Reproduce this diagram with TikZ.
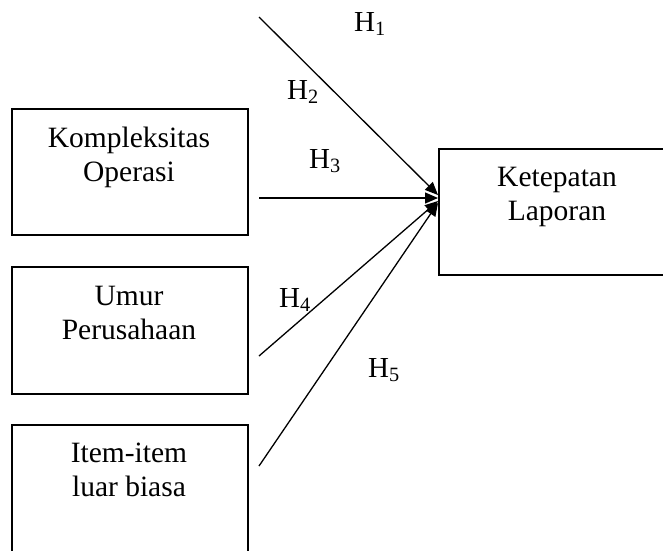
\documentclass[tikz,border=0pt]{standalone}
\usepackage{fontspec}
\setmainfont{Liberation Serif}
\usetikzlibrary{arrows.meta}
\begin{document}
\begin{tikzpicture}[x=1pt,y=-1pt,
  varbox/.style={draw, line width=1.5pt, minimum width=236pt, inner sep=0pt, anchor=north west},
  boxtext/.style={align=center, inner sep=0pt, anchor=north, font=\fontsize{29.5}{34}\selectfont},
  hlabel/.style={inner sep=0pt, anchor=base west, font=\fontsize{29}{34}\selectfont},
  conn/.style={line width=1.3pt, -{Triangle[length=13pt,width=11pt]}}]
\useasboundingbox (0,0) rectangle (663,550);
\clip (0,0) rectangle (663,550);
% boxes
\node[varbox, minimum height=126pt] (k) at (11,108) {};
\node[varbox, minimum height=127pt] (u) at (11,266) {};
\node[varbox, minimum height=130pt] (i) at (11,424) {};
\node[varbox, minimum width=238pt, minimum height=126pt] (t) at (438,148) {};
% box texts
\node[boxtext] (kt) at (129,127) {Kompleksitas\\Operasi};
\node[boxtext] (ut) at (129,286) {Umur\\Perusahaan};
\node[boxtext] (it) at (129,443) {Item-item\\luar biasa};
\node[boxtext] (tt) at (557,167) {Ketepatan\\Laporan};
% free ends
\coordinate (s1) at (259,17);
\coordinate (s3) at (259,198);
\coordinate (s4) at (259,356);
\coordinate (s5) at (259,466);
\coordinate (e1) at (438,195);
\coordinate (e3) at (438,198);
\coordinate (e4) at (438,201);
\coordinate (e5) at (438,203);
\draw[conn] (s1) -- (e1);
\draw[conn] (s3) -- (e3);
\draw[conn] (s4) -- (e4);
\draw[conn] (s5) -- (e5);
% labels
\node[hlabel] (h1) at (354,31) {H\textsubscript{1}};
\node[hlabel] (h2) at (287,99) {H\textsubscript{2}};
\node[hlabel] (h3) at (309,168) {H\textsubscript{3}};
\node[hlabel] (h4) at (279,307) {H\textsubscript{4}};
\node[hlabel] (h5) at (368,377) {H\textsubscript{5}};
\end{tikzpicture}
\end{document}
